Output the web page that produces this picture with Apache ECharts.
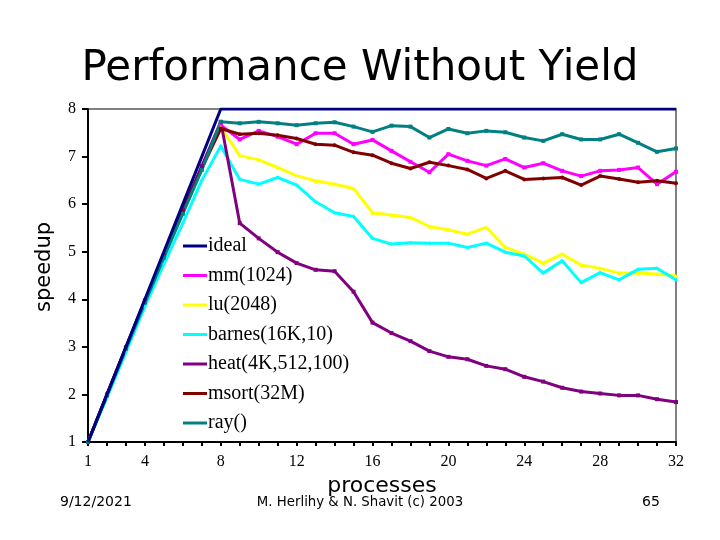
<!DOCTYPE html>
<html>
<head>
<meta charset="utf-8">
<script src="https://cdn.jsdelivr.net/npm/echarts@6/dist/echarts.min.js"></script>
<style>html,body{margin:0;padding:0;background:#fff;}#c{width:720px;height:540px;}</style>
</head>
<body>
<div id="c"></div>
<script>
const processes = [1,2,3,4,5,6,7,8,9,10,11,12,13,14,15,16,17,18,19,20,21,22,23,24,25,26,27,28,29,30,31,32];
const xTickLabels = [1,4,8,12,16,20,24,28,32];
const yTickLabels = [1,2,3,4,5,6,7,8];
const seriesNames = ['ideal','mm(1024)','lu(2048)','barnes(16K,10)','heat(4K,512,100)','msort(32M)','ray()'];
const ideal  = [1,2,3,4,5,6,7,8,8,8,8,8,8,8,8,8,8,8,8,8,8,8,8,8,8,8,8,8,8,8,8,8];
const mm     = [1,1.99,2.98,3.96,4.92,5.85,6.78,7.66,7.36,7.54,7.42,7.26,7.49,7.49,7.26,7.35,7.12,6.89,6.67,7.05,6.91,6.81,6.95,6.77,6.86,6.70,6.59,6.70,6.72,6.77,6.42,6.68];
const lu     = [1,1.98,2.96,3.94,4.90,5.83,6.75,7.62,7.02,6.93,6.77,6.60,6.49,6.42,6.33,5.82,5.77,5.72,5.53,5.46,5.37,5.51,5.09,4.95,4.76,4.95,4.72,4.65,4.55,4.55,4.53,4.49];
const barnes = [1,1.93,2.89,3.85,4.74,5.60,6.50,7.22,6.52,6.42,6.56,6.40,6.05,5.82,5.74,5.28,5.16,5.19,5.18,5.18,5.09,5.18,4.99,4.91,4.55,4.81,4.35,4.56,4.41,4.63,4.65,4.41];
const heat   = [1,2.00,2.99,3.98,4.92,5.88,6.80,7.73,5.60,5.28,4.99,4.76,4.62,4.59,4.16,3.51,3.29,3.12,2.91,2.79,2.74,2.60,2.53,2.37,2.27,2.14,2.06,2.02,1.98,1.98,1.90,1.84];
const msort  = [1,1.99,2.98,3.96,4.90,5.84,6.75,7.59,7.47,7.49,7.45,7.38,7.26,7.24,7.09,7.03,6.86,6.75,6.88,6.81,6.73,6.54,6.70,6.52,6.54,6.56,6.40,6.59,6.53,6.46,6.49,6.44];
const ray    = [1,1.98,2.96,3.93,4.88,5.80,6.72,7.73,7.70,7.73,7.70,7.66,7.70,7.72,7.63,7.52,7.65,7.63,7.40,7.58,7.49,7.54,7.51,7.40,7.33,7.47,7.36,7.36,7.47,7.29,7.10,7.17];

const colors = ['#000080','#ff00ff','#ffff00','#00ffff','#800080','#800000','#008080'];
const symbols = ['none','rect','triangle','diamond','rect','circle','rect'];
const values = [ideal, mm, lu, barnes, heat, msort, ray];

const chart = echarts.init(document.getElementById('c'), null, {renderer:'canvas'});
const series = seriesNames.map((name, i) => ({
  name: name,
  type: 'line',
  data: processes.map((p, k) => [p, values[i][k]]),
  symbol: symbols[i],
  symbolSize: i === 0 ? 0 : 4,
  showSymbol: i !== 0,
  lineStyle: {color: colors[i], width: 3},
  itemStyle: {color: colors[i]},
  z: i === 0 ? 10 : 3,
  animation: false
}));

chart.setOption({
  animation: false,
  backgroundColor: '#ffffff',
  title: {
    text: 'Performance Without Yield',
    left: 'center', top: 43,
    textStyle: {fontFamily: 'DejaVu Sans', fontWeight: 'normal', fontSize: 42, color: '#000'}
  },
  grid: {left: 88, right: 44, top: 109, bottom: 98, show: true, borderColor: '#808080', borderWidth: 2, backgroundColor: 'transparent'},
  legend: {
    orient: 'vertical', left: 178, top: 231,
    itemWidth: 24, itemHeight: 12, itemGap: 9.5,
    data: seriesNames,
    textStyle: {fontFamily: 'Liberation Serif', fontSize: 20, color: '#000', padding: [0,0,0,-4]},
    icon: 'path://M0,5 L24,5 L24,8 L0,8 Z'
  },
  xAxis: {
    type: 'value', min: 1, max: 32, interval: 1,
    name: 'processes', nameLocation: 'middle', nameGap: 25,
    nameTextStyle: {fontFamily: 'DejaVu Sans', fontSize: 22, color: '#000'},
    axisLine: {lineStyle: {color: '#000', width: 2}},
    axisTick: {show: true, length: 4, lineStyle: {color: '#000', width: 2}},
    axisLabel: {
      fontFamily: 'Liberation Serif', fontSize: 16, color: '#000', margin: 12,
      formatter: v => xTickLabels.indexOf(v) >= 0 ? String(v) : ''
    },
    splitLine: {show: false}
  },
  yAxis: {
    type: 'value', min: 1, max: 8, interval: 1,
    axisLine: {show: true, lineStyle: {color: '#000', width: 2}},
    axisTick: {show: true, length: 6, lineStyle: {color: '#000', width: 2}},
    axisLabel: {
      fontFamily: 'Liberation Serif', fontSize: 16, color: '#000', margin: 12,
      formatter: v => yTickLabels.indexOf(v) >= 0 ? String(v) : ''
    },
    splitLine: {show: false}
  },
  graphic: [
    {type: 'text', x: 45, y: 267, rotation: Math.PI / 2, style: {text: 'speedup', font: '21px "DejaVu Sans"', fill: '#000', textAlign: 'center', textVerticalAlign: 'middle'}},
    {type: 'text', left: 60, top: 495, style: {text: '9/12/2021', font: '14px "DejaVu Sans"', fill: '#000'}},
    {type: 'text', left: 'center', top: 496, style: {text: 'M. Herlihy & N. Shavit (c) 2003', font: '13.3px "DejaVu Sans"', fill: '#000'}},
    {type: 'text', left: 642, top: 495, style: {text: '65', font: '14px "DejaVu Sans"', fill: '#000'}}
  ],
  series: series
});
</script>
</body>
</html>
